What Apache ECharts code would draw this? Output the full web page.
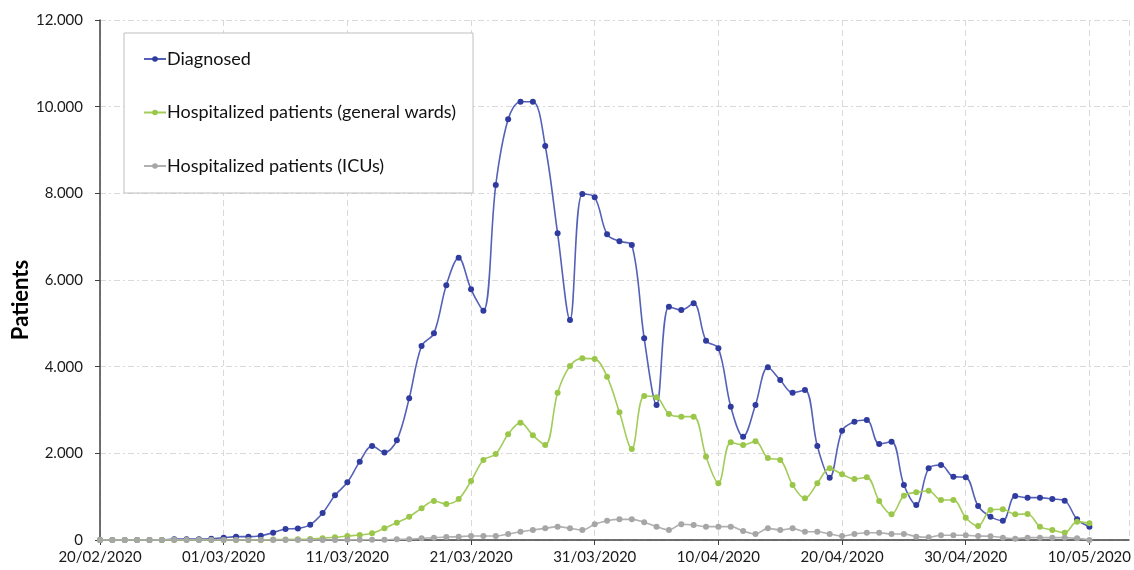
<!DOCTYPE html>
<html>
<head>
<meta charset="utf-8">
<script src="https://cdn.jsdelivr.net/npm/echarts@6/dist/echarts.min.js"></script>
<style>
html,body{margin:0;padding:0;background:#fff;}
#chart{width:1134px;height:570px;}
</style>
</head>
<body>
<div id="chart"></div>
<script>
// X tick labels (one every 10 days, day index 0 = 20/02/2020)
const xTickLabels = ['20/02/2020','01/03/2020','11/03/2020','21/03/2020','31/03/2020','10/04/2020','20/04/2020','30/04/2020','10/05/2020'];

const seriesNames = ['Diagnosed','Hospitalized patients (general wards)','Hospitalized patients (ICUs)'];
const yAxisTitle = 'Patients';

// Daily values, 20/02/2020 .. 10/05/2020 (81 days)
const diagnosed = [
  0,0,0,0,0,0,20,20,20,30,
  53,77,77,100,170,254,268,354,623,1031,
  1331,1808,2169,2020,2300,3269,4477,4769,5880,6515,
  5785,5292,8192,9708,10115,10115,9092,7077,5077,7985,
  7908,7054,6892,6808,4654,3115,5385,5308,5462,4600,
  4423,3077,2385,3115,3985,3692,3400,3462,2169,1438,
  2523,2731,2769,2215,2269,1269,808,1654,1731,1462,
  1446,785,538,446,1015,977,977,946,908,477,
  308
];
const generalWards = [
  0,0,0,0,0,0,0,0,0,0,
  0,0,0,0,10,10,15,23,38,62,
  92,115,154,269,400,538,731,900,831,946,
  1362,1846,1985,2438,2708,2415,2192,3400,4015,4192,
  4177,3769,2946,2100,3323,3292,2908,2846,2846,1923,
  1308,2254,2192,2277,1892,1846,1269,962,1308,1654,
  1515,1408,1446,900,592,1023,1100,1138,923,923,
  515,323,692,708,592,600,308,231,169,423,
  385
];
const icu = [
  0,0,0,0,0,0,0,0,0,0,
  0,0,0,0,0,0,0,0,0,0,
  3,4,5,5,15,20,38,54,69,77,
  92,92,92,138,192,231,269,308,269,231,
  362,446,477,477,408,308,231,362,346,308,
  308,308,208,138,269,231,269,192,192,138,
  92,138,169,169,138,138,77,62,108,108,
  108,92,85,54,31,54,54,54,54,38,
  0
];

const FONT = 'Lato';
const toPairs = arr => arr.map((v, i) => [i, v]);

const chart = echarts.init(document.getElementById('chart'), null, {renderer: 'canvas'});
chart.setOption({
  backgroundColor: '#ffffff',
  animation: false,
  textStyle: {fontFamily: FONT},
  grid: {left: 100, right: 0, top: 20, bottom: 30, containLabel: false},
  graphic: [{
    type: 'text',
    x: 21, y: 300,
    rotation: Math.PI / 2,
    style: {
      text: yAxisTitle,
      font: 'bold 22px Lato',
      fill: '#000',
      textAlign: 'center',
      textVerticalAlign: 'middle'
    }
  }],
  legend: {
    orient: 'vertical',
    left: 124, top: 33,
    padding: [17, 17, 18, 19],
    itemGap: 35.5,
    itemWidth: 22, itemHeight: 7,
    borderColor: '#bfbfbf', borderWidth: 1,
    backgroundColor: '#ffffff',
    textStyle: {fontFamily: FONT, fontSize: 18, color: '#111', padding: [0,0,0,-4]},
    data: seriesNames
  },
  xAxis: {
    type: 'value',
    min: 0, max: 83.2, interval: 10,
    axisLine: {show: true, onZero: false, lineStyle: {color: '#404040', width: 1.5}},
    axisTick: {show: true, length: 5, lineStyle: {color: '#404040'}},
    axisLabel: {
      fontFamily: FONT, fontSize: 15, color: '#1a1a1a', margin: 10,
      showMaxLabel: false,
      formatter: v => (v % 10 === 0 && xTickLabels[v / 10]) ? xTickLabels[v / 10] : ''
    },
    splitLine: {show: true, lineStyle: {color: '#d9d9d9', type: [6, 4], width: 1}}
  },
  yAxis: {
    type: 'value',
    min: 0, max: 12000, interval: 2000,
    axisLine: {show: true, lineStyle: {color: '#404040', width: 1.5}},
    axisTick: {show: true, length: 5, lineStyle: {color: '#404040'}},
    axisLabel: {
      fontFamily: FONT, fontSize: 15, color: '#1a1a1a', margin: 17,
      formatter: v => v === 0 ? '0' : String(v).replace(/\B(?=(\d{3})+(?!\d))/g, '.')
    },
    splitLine: {show: true, lineStyle: {color: '#d9d9d9', type: [6, 3, 2, 3], width: 1}}
  },
  series: [
    {
      name: seriesNames[0], type: 'line', smooth: 0.35,
      data: toPairs(diagnosed),
      symbol: 'circle', symbolSize: 6,
      lineStyle: {color: '#5560b8', width: 1.6},
      itemStyle: {color: '#2f3b9e'},
      z: 3
    },
    {
      name: seriesNames[1], type: 'line', smooth: 0.35,
      data: toPairs(generalWards),
      symbol: 'circle', symbolSize: 6,
      lineStyle: {color: '#a3cc5a', width: 1.6},
      itemStyle: {color: '#9ac74a'},
      z: 4
    },
    {
      name: seriesNames[2], type: 'line', smooth: 0.35,
      data: toPairs(icu),
      symbol: 'circle', symbolSize: 6,
      lineStyle: {color: '#b0b0b0', width: 1.6},
      itemStyle: {color: '#a6a6a6'},
      z: 5
    }
  ]
});
</script>
</body>
</html>
